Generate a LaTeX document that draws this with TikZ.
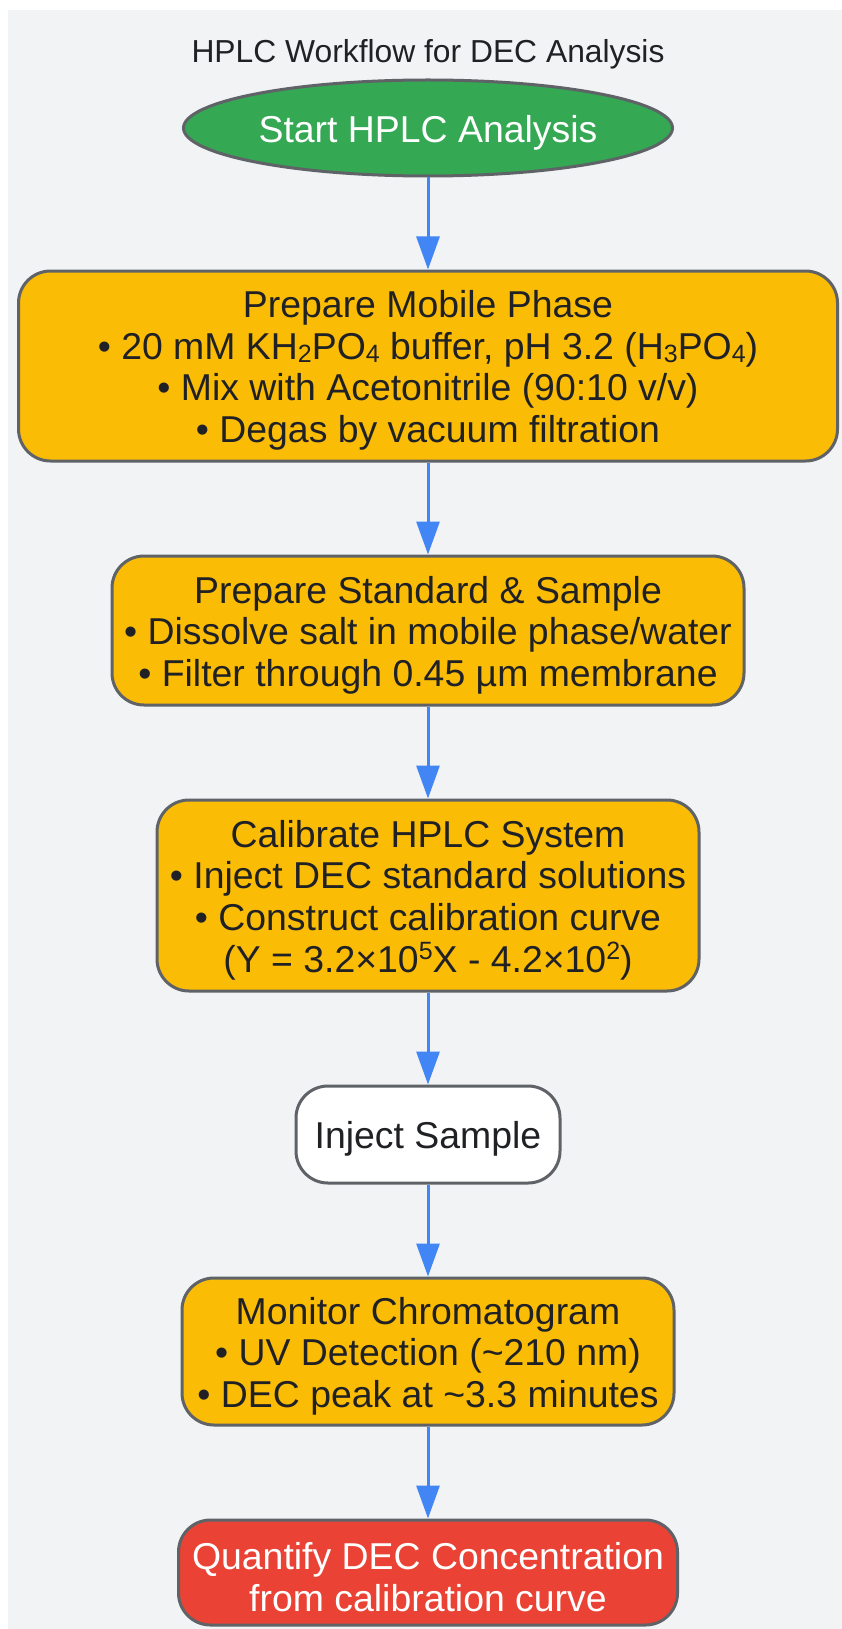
\documentclass[tikz,border=0pt]{standalone}
\usepackage{fontspec}
\setmainfont{Liberation Sans}
\usetikzlibrary{arrows.meta, positioning, shapes.geometric}
\definecolor{pagegray}{HTML}{F1F3F4}
\definecolor{edgegray}{HTML}{5F6368}
\definecolor{textdark}{HTML}{202124}
\definecolor{hplcgreen}{HTML}{34A853}
\definecolor{hplcyellow}{HTML}{FBBC05}
\definecolor{hplcred}{HTML}{EA4335}
\definecolor{arrowblue}{HTML}{4285F4}
\newcommand{\lowdig}[1]{\raisebox{-0.15ex}{\fontsize{25}{25}\selectfont #1}}
\newcommand{\highdig}[1]{\raisebox{0.65ex}{\fontsize{25}{25}\selectfont #1}}
\newcommand{\topstrut}{\rule{0pt}{36pt}}

\begin{document}
\begin{tikzpicture}[x=1pt, y=1pt, node distance=92pt,
    every node/.style={text=textdark, font=\fontsize{37.4}{41.6}\selectfont, inner sep=0pt, align=center},
    lowtext/.style={execute at begin node={\topstrut}},
    stepbox/.style={lowtext, draw=edgegray, line width=3pt, rounded corners=32pt, fill=hplcyellow},
    flow/.style={-{Triangle[length=33pt, width=23pt]}, line width=3pt, draw=arrowblue}]
            \useasboundingbox (0,0) rectangle (842,-1629);
            \fill[pagegray] (8,-10) rectangle (842,-1629);

            \node[font=\fontsize{31.8}{36}\selectfont] (title) at (428,-54) {HPLC Workflow for DEC Analysis};

            \node[lowtext, ellipse, draw=edgegray, line width=3pt, fill=hplcgreen, text=white, minimum width=489pt, minimum height=96pt] (start) at (428,-128) {Start HPLC Analysis};
            \node[stepbox, minimum width=819pt, minimum height=190pt, below=of start] (mobile) {\topstrut Prepare Mobile Phase\\
                • 20 mM KH\lowdig{2}PO\lowdig{4} buffer, pH 3.2 (H\lowdig{3}PO\lowdig{4})\\
                • Mix with Acetonitrile (90:10 v/v)\\
                • Degas by vacuum filtration};
            \node[stepbox, minimum width=632pt, minimum height=149pt, below=of mobile] (sample) {\topstrut Prepare Standard \& Sample\\
                • Dissolve salt in mobile phase/water\\
                • Filter through 0.45 µm membrane};
            \node[stepbox, minimum width=542pt, minimum height=191pt, below=of sample] (calib) {\topstrut Calibrate HPLC System\\
                • Inject DEC standard solutions\\
                • Construct calibration curve\\
                (Y = 3.2×10\highdig{5}X - 4.2×10\highdig{2})};
            \node[stepbox, fill=white, minimum width=264pt, minimum height=97pt, below=of calib] (inject) {Inject Sample};
            \node[stepbox, minimum width=492pt, minimum height=147pt, below=of inject] (monitor) {\topstrut Monitor Chromatogram\\
                • UV Detection (\textasciitilde210 nm)\\
                • DEC peak at \textasciitilde3.3 minutes};
            \node[stepbox, fill=hplcred, text=white, minimum width=499pt, minimum height=105pt, below=of monitor] (quant) {\topstrut Quantify DEC Concentration\\
                from calibration curve};

            \draw[flow] (start) -- (mobile);
            \draw[flow] (mobile) -- (sample);
            \draw[flow] (sample) -- (calib);
            \draw[flow] (calib) -- (inject);
            \draw[flow] (inject) -- (monitor);
            \draw[flow] (monitor) -- (quant);
        \end{tikzpicture}
\end{document}
